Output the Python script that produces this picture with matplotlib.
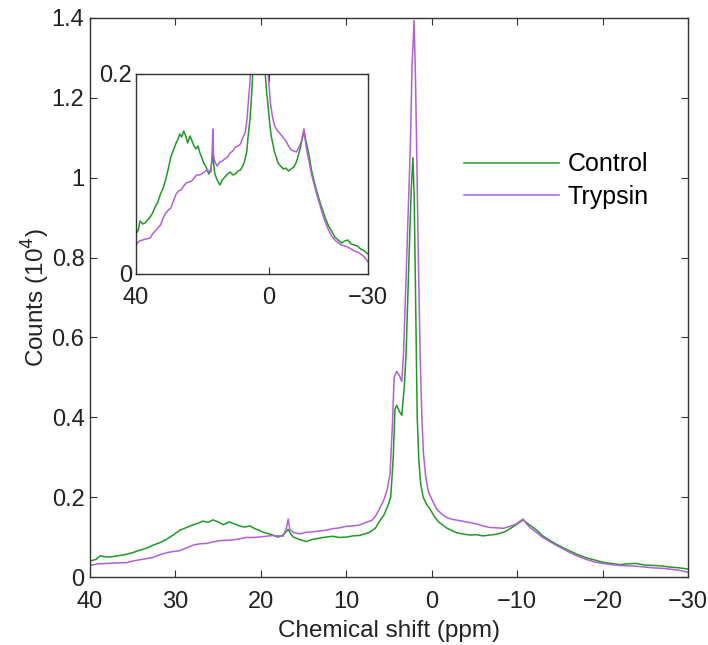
import matplotlib
matplotlib.use('Agg')
import matplotlib.pyplot as plt

plt.rcParams['font.family'] = ['Liberation Sans', 'DejaVu Sans']

# Control spectrum (chemical shift in ppm, counts in 10^4)
ctrl_x = [40, 39.3, 38.8, 38.0, 37.3, 36.5, 35.7, 35.0, 34.2, 33.4,
          32.6, 31.8, 31.0, 30.2, 29.5, 28.7, 27.9, 27.3, 26.8, 26.2,
          25.6, 25.0, 24.4, 23.7, 23.1, 22.5, 21.9, 21.3, 20.7, 20.2,
          19.6, 19.0, 18.5, 18.0, 17.5, 17.2, 16.8, 16.5, 16.2, 15.5,
          14.7, 14.0, 13.2, 12.4, 11.6, 10.8, 10.0, 9.2, 8.5, 7.8,
          7.3, 6.6, 6.1, 5.6, 5.1, 4.8, 4.5, 4.3, 4.1, 3.8,
          3.5, 3.2, 3.0, 2.7, 2.4, 2.2, 2.05, 1.9, 1.7, 1.5,
          1.3, 1.0, 0.6, 0.2, -0.3, -0.8, -1.3, -1.8, -2.4, -2.9,
          -3.6, -4.5, -5.2, -6.0, -6.8, -7.6, -8.4, -9.1, -9.7, -10.3,
          -10.7, -11.1, -11.5, -12.3, -13.0, -13.8, -14.6, -15.4, -16.2, -17.1,
          -18.1, -19.0, -20.0, -21.0, -22.0, -23.0, -23.9, -24.9, -25.9, -26.8,
          -27.8, -28.9, -30.0]
ctrl_y = [0.040, 0.044, 0.053, 0.050, 0.051, 0.054, 0.057, 0.061, 0.067, 0.072,
          0.080, 0.086, 0.095, 0.106, 0.117, 0.124, 0.131, 0.135, 0.140, 0.137,
          0.143, 0.138, 0.131, 0.138, 0.133, 0.128, 0.125, 0.128, 0.121, 0.117,
          0.111, 0.108, 0.104, 0.100, 0.104, 0.110, 0.119, 0.108, 0.100, 0.094,
          0.089, 0.094, 0.097, 0.100, 0.102, 0.099, 0.100, 0.103, 0.104, 0.108,
          0.112, 0.122, 0.140, 0.155, 0.180, 0.200, 0.300, 0.420, 0.430, 0.415,
          0.405, 0.480, 0.560, 0.770, 0.970, 1.050, 0.950, 0.720, 0.400, 0.290,
          0.235, 0.200, 0.182, 0.170, 0.152, 0.138, 0.130, 0.122, 0.116, 0.111,
          0.108, 0.105, 0.106, 0.103, 0.105, 0.107, 0.112, 0.120, 0.128, 0.137,
          0.143, 0.136, 0.130, 0.117, 0.103, 0.092, 0.082, 0.073, 0.065, 0.056,
          0.048, 0.043, 0.037, 0.034, 0.031, 0.033, 0.034, 0.030, 0.029, 0.028,
          0.025, 0.023, 0.020]

# Trypsin spectrum
tryp_x = [40, 39.0, 38.0, 37.0, 35.7, 35.0, 34.2, 33.4, 32.6, 31.8,
          31.0, 30.2, 29.5, 28.7, 27.9, 27.2, 26.4, 25.6, 24.8, 24.0,
          23.2, 22.4, 21.7, 20.9, 20.2, 19.4, 18.6, 17.9, 17.4, 17.0,
          16.8, 16.6, 16.2, 15.5, 14.7, 14.0, 13.2, 12.4, 11.6, 10.8,
          10.0, 9.2, 8.5, 7.8, 7.0, 6.5, 6.1, 5.65, 5.2, 4.87,
          4.6, 4.4, 4.1, 3.8, 3.5, 3.3, 3.0, 2.7, 2.5, 2.3,
          2.06, 1.9, 1.75, 1.55, 1.36, 1.15, 0.97, 0.7, 0.4, 0.0,
          -0.58, -1.2, -1.75, -2.5, -3.3, -4.3, -5.25, -6.0, -6.8, -7.6,
          -8.4, -9.2, -9.9, -10.4, -10.7, -11.1, -11.5, -12.3, -13.0, -13.8,
          -14.6, -15.4, -16.2, -17.1, -18.1, -19.0, -20.0, -21.0, -22.0, -23.0,
          -23.9, -24.9, -25.9, -26.8, -27.8, -28.9, -30.0]
tryp_y = [0.029, 0.033, 0.034, 0.035, 0.036, 0.040, 0.043, 0.046, 0.049, 0.056,
          0.061, 0.064, 0.066, 0.073, 0.080, 0.083, 0.084, 0.088, 0.091, 0.092,
          0.093, 0.096, 0.099, 0.099, 0.100, 0.102, 0.104, 0.103, 0.102, 0.123,
          0.145, 0.119, 0.112, 0.108, 0.112, 0.113, 0.115, 0.117, 0.121, 0.123,
          0.127, 0.128, 0.130, 0.136, 0.142, 0.155, 0.172, 0.190, 0.220, 0.260,
          0.380, 0.500, 0.515, 0.505, 0.490, 0.560, 0.750, 0.950, 1.080, 1.280,
          1.394, 1.250, 1.056, 0.780, 0.558, 0.400, 0.310, 0.250, 0.215, 0.195,
          0.170, 0.157, 0.149, 0.144, 0.141, 0.137, 0.133, 0.128, 0.124, 0.123,
          0.122, 0.127, 0.133, 0.141, 0.145, 0.133, 0.124, 0.111, 0.099, 0.089,
          0.079, 0.070, 0.061, 0.052, 0.044, 0.038, 0.034, 0.031, 0.029, 0.028,
          0.027, 0.025, 0.023, 0.022, 0.020, 0.017, 0.012]

green = '#1f9a24'
purple = '#b35fd6'
edge = '#333333'
txt = '#222222'
fs = 17

fig = plt.figure(figsize=(7.08, 6.45), dpi=100)
ax = fig.add_axes([90 / 708, 1 - 577 / 645, 598 / 708, 559 / 645])

ax.plot(ctrl_x, ctrl_y, color=green, lw=1.1, label='Control')
ax.plot(tryp_x, tryp_y, color=purple, lw=1.1, label='Trypsin')
ax.set_xlim(40, -30)
ax.set_ylim(0, 1.4)
ax.set_xticks([40, 30, 20, 10, 0, -10, -20, -30])
ax.set_xticklabels(['40', '30', '20', '10', '0', '\u221210', '\u221220', '\u221230'])
ax.set_yticks([0, 0.2, 0.4, 0.6, 0.8, 1.0, 1.2, 1.4])
ax.set_yticklabels(['0', '0.2', '0.4', '0.6', '0.8', '1', '1.2', '1.4'])
ax.tick_params(direction='in', top=True, right=True, length=5, width=0.8,
               labelsize=fs, colors=edge, labelcolor=txt)
ax.tick_params(axis='x', pad=10)
ax.tick_params(axis='y', pad=4)
for s in ax.spines.values():
    s.set_color(edge)
    s.set_linewidth(1.0)
ax.set_xlabel('Chemical shift (ppm)', fontsize=17.5, color=txt, labelpad=5)
ax.set_ylabel('Counts (10$^4$)', fontsize=17.5, color=txt, labelpad=0)

leg = ax.legend(loc='upper left', bbox_to_anchor=(0.588, 0.80), frameon=False,
                fontsize=18, handlelength=3.8, handletextpad=0.35, labelspacing=0.35)

# inset
axi = fig.add_axes([136 / 708, 1 - 274 / 645, 232 / 708, 200 / 645])
axi.plot(ctrl_x, ctrl_y, color=green, lw=1.1)
axi.plot(tryp_x, tryp_y, color=purple, lw=1.1)
axi.set_xlim(40, -30)
axi.set_ylim(0, 0.2)
axi.set_xticks([40, 0, -30])
axi.set_xticklabels(['40', '0', '\u221230'])
axi.set_yticks([0, 0.2])
axi.set_yticklabels(['0', '0.2'])
axi.tick_params(direction='in', top=True, right=True, length=5, width=0.8,
                labelsize=fs, colors=edge, labelcolor=txt)
axi.tick_params(axis='x', pad=9)
axi.tick_params(axis='y', pad=3)
for s in axi.spines.values():
    s.set_color(edge)
    s.set_linewidth(1.0)

fig.savefig('out.png', dpi=100)
